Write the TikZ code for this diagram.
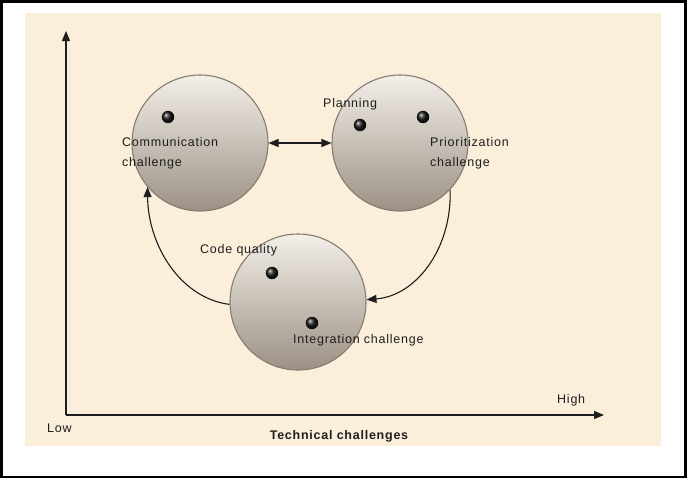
\documentclass[tikz,border=0pt]{standalone}
\usepackage{fontspec}
\setmainfont[LetterSpace=6]{Liberation Sans}
\usetikzlibrary{arrows.meta}
\definecolor{bgbeige}{HTML}{FBEEDB}
\definecolor{rimgray}{HTML}{857C70}
\definecolor{toptone}{HTML}{F3EFE9}
\definecolor{bottone}{HTML}{9C9184}
\definecolor{ink}{HTML}{1E1E1E}
\begin{document}
\begin{tikzpicture}[x=1pt,y=-1pt,
  bubble/.style={circle, minimum size=136pt, inner sep=0pt, draw=rimgray, line width=1.1pt,
     top color=toptone, bottom color=bottone},
  dot/.style={circle, minimum size=12pt, inner sep=0pt, ball color=black!90, draw=black, line width=0.4pt},
  lbl/.style={inner sep=0pt, anchor=west, align=left, font=\fontsize{12.5}{20}\selectfont, text=ink},
  conn/.style={line width=1.1pt, ink},
  tip/.style={-{Triangle[length=10pt,width=8pt]}}
]
\useasboundingbox (0,0) rectangle (687,479);
\fill[bgbeige] (25,13) rectangle (661,446);
\draw[line width=2.5pt] (1.5,1.5) rectangle (685.5,477);

% axes
\coordinate (origin) at (66,415);
\coordinate (ytop) at (66,31);
\coordinate (xend) at (604,415);
\draw[conn, tip] (origin) -- (ytop);
\draw[conn, tip] (origin) -- (xend);

% bubbles
\node[bubble] (comm) at (200,143) {};
\node[bubble] (prio) at (400,143) {};
\node[bubble] (integ) at (298,302) {};

% dots
\node[dot] (d1) at (168,117) {};
\node[dot] (d2) at (360,125) {};
\node[dot] (d3) at (423,117) {};
\node[dot] (d4) at (272,273) {};
\node[dot] (d5) at (312,323) {};

% connectors
\draw[conn, {Triangle[length=10pt,width=8pt]}-{Triangle[length=10pt,width=8pt]}] (comm.east) -- (prio.west);
\draw[conn, tip] (integ.182) .. controls (180,298) and (148,245) .. (comm.220);
\draw[conn, tip] (prio.-43) .. controls (452,250) and (415,296) .. (integ.2);

% labels
\node[lbl] (t1) at (122,153) {Communication\\challenge};
\node[lbl] (t2) at (323,104) {Planning};
\node[lbl] (t3) at (430,153) {Prioritization\\challenge};
\node[lbl] (t4) at (200,250) {Code quality};
\node[lbl] (t5) at (293,340) {Integration challenge};
\node[lbl] (t6) at (557,400) {High};
\node[lbl] (t7) at (47,428) {Low};
\node[inner sep=0pt, font=\fontsize{12.5}{15}\selectfont\bfseries, text=ink] (t8) at (339,436) {Technical challenges};
\end{tikzpicture}
\end{document}
